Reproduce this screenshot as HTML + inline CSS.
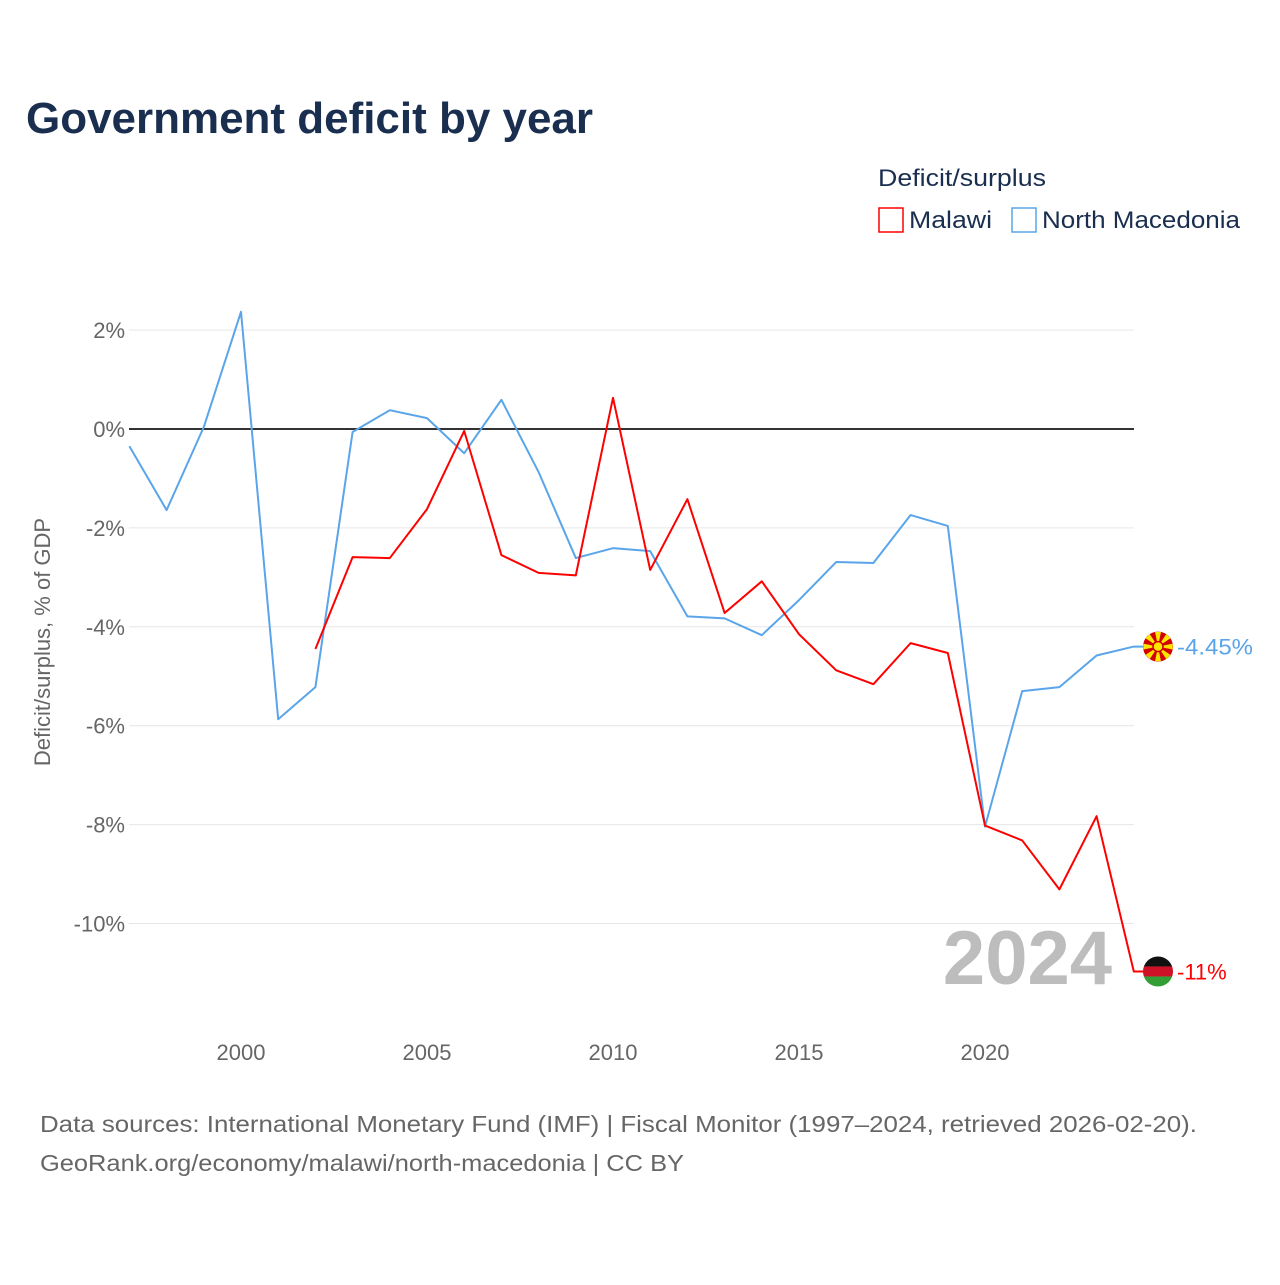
<!DOCTYPE html>
<html><head><meta charset="utf-8"><style>
body{margin:0;background:#fff;font-family:"Liberation Sans",sans-serif;}
svg text{font-family:"Liberation Sans",sans-serif;}
</style></head><body>
<svg id="c" width="1280" height="1280" xmlns="http://www.w3.org/2000/svg">
<text x="26" y="133" font-size="44" font-weight="bold" fill="#1a2e4f" textLength="567" lengthAdjust="spacingAndGlyphs">Government deficit by year</text>
<text x="878" y="186" font-size="24" fill="#1a2e4f" textLength="168" lengthAdjust="spacingAndGlyphs">Deficit/surplus</text>
<g><rect x="879" y="208" width="24" height="24" fill="none" stroke="#ff0000" stroke-width="1.5"/><text x="909" y="228" font-size="24" fill="#1a2e4f" textLength="83" lengthAdjust="spacingAndGlyphs">Malawi</text></g>
<g><rect x="1012" y="208" width="24" height="24" fill="none" stroke="#5aa5ea" stroke-width="1.5"/><text x="1042" y="228" font-size="24" fill="#1a2e4f" textLength="198" lengthAdjust="spacingAndGlyphs">North Macedonia</text></g>
<text transform="translate(50,642) rotate(-90)" text-anchor="middle" font-size="22" fill="#666">Deficit/surplus, % of GDP</text>
<g id="grid"></g><g id="lines"></g>
<text x="1112" y="984" text-anchor="end" font-size="76" font-weight="bold" fill="#bdbdbd">2024</text>
<text x="40" y="1132" font-size="23" fill="#666" textLength="1157" lengthAdjust="spacingAndGlyphs">Data sources: International Monetary Fund (IMF) | Fiscal Monitor (1997–2024, retrieved 2026-02-20).</text>
<text x="40" y="1171" font-size="23" fill="#666" textLength="644" lengthAdjust="spacingAndGlyphs">GeoRank.org/economy/malawi/north-macedonia | CC BY</text>
</svg>
<script>
const yTicks=[2,0,-2,-4,-6,-8,-10];
const xTicks=[2000,2005,2010,2015,2020];
const mkdYears=[1997,1998,1999,2000,2001,2002,2003,2004,2005,2006,2007,2008,2009,2010,2011,2012,2013,2014,2015,2016,2017,2018,2019,2020,2021,2022,2023,2024];
const mkdValues=[-0.35,-1.64,0.04,2.37,-5.87,-5.22,-0.06,0.38,0.22,-0.49,0.59,-0.87,-2.61,-2.41,-2.47,-3.79,-3.83,-4.17,-3.46,-2.69,-2.71,-1.74,-1.96,-8.04,-5.30,-5.22,-4.58,-4.40];
const mwiYears=[2002,2003,2004,2005,2006,2007,2008,2009,2010,2011,2012,2013,2014,2015,2016,2017,2018,2019,2020,2021,2022,2023,2024];
const mwiValues=[-4.45,-2.59,-2.61,-1.62,-0.04,-2.55,-2.91,-2.96,0.63,-2.85,-1.42,-3.72,-3.08,-4.15,-4.88,-5.16,-4.33,-4.53,-8.02,-8.32,-9.31,-7.83,-10.97];
const X=yr=>129.4+(yr-1997)*37.2;
const Y=v=>429-v*49.45;
const NS="http://www.w3.org/2000/svg";
function el(t,a,p){const e=document.createElementNS(NS,t);for(const k in a)e.setAttribute(k,a[k]);p.appendChild(e);return e;}
const g=document.getElementById('grid'),L=document.getElementById('lines');
yTicks.forEach(v=>{
 const l=el('line',{x1:129,x2:1134,y1:Y(v),y2:Y(v),stroke:v===0?'#333':'#e6e6e6','stroke-width':v===0?2:1},g);
 
 
 const t=el('text',{x:125,y:Y(v)+8,'text-anchor':'end','font-size':22,fill:'#666'},g);
 t.textContent=v+'%';
 
 
});
xTicks.forEach(yr=>{
 const t=el('text',{x:X(yr),y:1060,'text-anchor':'middle','font-size':22,fill:'#666'},g);
 t.textContent=yr;
 
 
});
function series(years,vals,color,name){
 let d=years.map((yr,i)=>(i?'L':'M')+X(yr)+','+Y(vals[i])).join(' ');
 const last=vals[vals.length-1];
 d+=' L1146,'+Y(last);
 const p=el('path',{d:d,fill:'none',stroke:color,'stroke-width':2,'stroke-linejoin':'round'},L);
 
 
 return last;
}
const a=series(mkdYears,mkdValues,'#5aa5ea','north-macedonia');
const b=series(mwiYears,mwiValues,'#ff0000','malawi');
const f1=el('g',{},L);


el('circle',{cx:1158,cy:Y(a),r:15,fill:'#d20000'},f1);
for(let i=0;i<8;i++){const an=i*Math.PI/4;el('path',{d:`M1158,${Y(a)} L${1158+15*Math.cos(an-0.2)},${Y(a)+15*Math.sin(an-0.2)} L${1158+15*Math.cos(an+0.2)},${Y(a)+15*Math.sin(an+0.2)}Z`,fill:'#ffe600'},f1);}
el('circle',{cx:1158,cy:Y(a),r:5,fill:'#ffe600',stroke:'#d20000','stroke-width':1.5},f1);
const f2=el('g',{},L);


el('clipPath',{id:'cp'},f2);
el('circle',{cx:1158,cy:Y(b),r:15},document.getElementById('cp'));
el('rect',{x:1143,y:Y(b)-15,width:30,height:10,fill:'#111','clip-path':'url(#cp)'},f2);
el('rect',{x:1143,y:Y(b)-5,width:30,height:10,fill:'#ce1126','clip-path':'url(#cp)'},f2);
el('rect',{x:1143,y:Y(b)+5,width:30,height:10,fill:'#339e35','clip-path':'url(#cp)'},f2);
const t1=el('text',{x:1177,y:Y(a)+8,'font-size':22,fill:'#5aa5ea',textLength:76,lengthAdjust:'spacingAndGlyphs'},L);
t1.textContent='-4.45%';


const t2=el('text',{x:1177,y:Y(b)+8,'font-size':22,fill:'#ff0000'},L);
t2.textContent=Math.round(b)+'%';


</script>
</body></html>
